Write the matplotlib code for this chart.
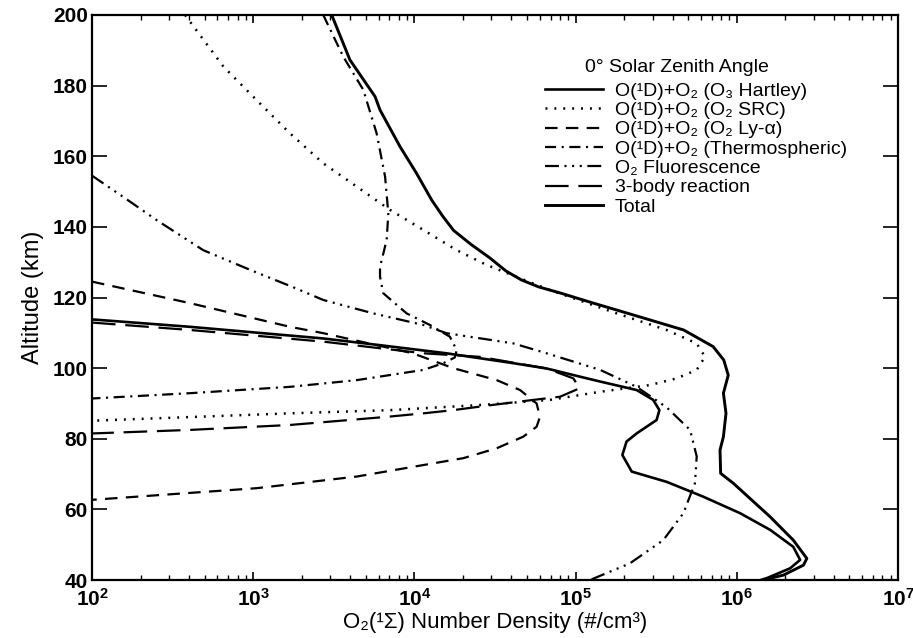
import matplotlib
matplotlib.use("Agg")
import matplotlib.pyplot as plt
from matplotlib.ticker import LogLocator, NullFormatter

plt.rcParams['font.family'] = ['Liberation Sans', 'DejaVu Sans']
plt.rcParams['mathtext.fontset'] = 'custom'
plt.rcParams['mathtext.rm'] = 'Liberation Sans:bold'
plt.rcParams['mathtext.it'] = 'Liberation Sans:italic'
plt.rcParams['mathtext.bf'] = 'Liberation Sans:bold'
plt.rcParams['lines.scale_dashes'] = False

# O2(1Sigma) number density (#/cm^3) vs altitude (km), 0 deg solar zenith angle
hartley_alt = [113.8, 111.7, 108.4, 106.5, 104.2, 102.8, 101.4, 99.9, 97.6, 96.2,
               93.8, 91.0, 88.1, 85.3, 81.5, 79.2, 75.4, 70.7, 67.8, 63.6,
               58.9, 54.2, 49.4, 45.7, 43.3, 40.5, 40.0]
hartley_den = [1.0e2, 4.05e2, 2.72e3, 6.12e3, 1.58e4, 2.55e4, 4.11e4, 6.61e4, 1.06e5, 1.42e5,
               2.39e5, 3.03e5, 3.31e5, 3.18e5, 2.39e5, 2.07e5, 1.95e5, 2.23e5, 3.67e5, 6.19e5,
               1.05e6, 1.61e6, 2.24e6, 2.47e6, 2.14e6, 1.53e6, 1.41e6]

src_alt = [200.0, 185.4, 175.9, 166.5, 158.0, 151.4, 144.8, 139.1, 133.4, 129.2,
           122.1, 115.5, 110.8, 107.0, 103.2, 99.5, 97.1, 95.2, 93.3, 91.0,
           89.6, 88.1, 87.2, 85.1]
src_den = [3.78e2, 6.53e2, 1.05e3, 1.69e3, 2.72e3, 4.39e3, 7.06e3, 1.14e4, 1.83e4, 2.81e4,
           6.93e4, 1.80e5, 3.67e5, 5.64e5, 6.35e5, 5.64e5, 4.24e5, 2.89e5, 1.42e5, 6.93e4,
           2.67e4, 7.06e3, 1.69e3, 1.0e2]

lya_alt = [124.5, 118.4, 111.7, 109.9, 104.2, 100.0, 96.6, 93.8, 90.0, 86.2,
           83.4, 80.6, 77.3, 74.5, 69.3, 66.0, 62.7]
lya_den = [1.0e2, 4.05e2, 1.69e3, 2.72e3, 9.77e3, 1.74e4, 3.24e4, 4.52e4, 5.73e4, 6.01e4,
           5.73e4, 4.74e4, 3.24e4, 2.01e4, 4.39e3, 1.05e3, 1.0e2]

thermo_alt = [200.0, 188.2, 178.8, 166.5, 154.2, 143.8, 136.3, 128.7, 125.9, 121.2,
              115.5, 112.2, 108.9, 105.1, 103.0, 101.4, 99.5, 96.6, 94.7, 92.9, 91.4]
thermo_den = [2.72e3, 3.62e3, 4.82e3, 5.83e3, 6.58e3, 6.89e3, 6.73e3, 6.12e3, 6.12e3, 6.41e3,
              8.95e3, 1.25e4, 1.66e4, 1.83e4, 1.78e4, 1.51e4, 1.14e4, 4.39e3, 1.69e3, 4.05e2, 1.0e2]

fluor_alt = [154.5, 148.5, 141.9, 133.4, 127.8, 123.0, 119.3, 115.5, 112.2, 109.9,
             107.0, 104.2, 99.5, 94.7, 88.9, 82.5, 75.0, 67.4, 58.9, 51.3, 44.7, 40.0]
fluor_den = [1.0e2, 1.56e2, 2.52e2, 4.9e2, 9.6e2, 1.75e3, 2.72e3, 5.56e3, 1.14e4, 1.58e4,
             4.11e4, 6.61e4, 1.42e5, 2.39e5, 3.67e5, 5.13e5, 5.64e5, 5.50e5, 4.66e5, 3.50e5,
             2.17e5, 1.23e5]

body3_alt = [112.9, 110.8, 107.5, 104.2, 103.2, 99.9, 97.1, 94.3, 91.9, 91.0,
             89.6, 88.1, 87.2, 86.2, 83.9, 82.5, 81.5]
body3_den = [1.0e2, 4.05e2, 2.72e3, 1.14e4, 2.55e4, 6.61e4, 9.68e4, 1.06e5, 8.0e4, 5.46e4,
             3.08e4, 1.74e4, 1.14e4, 6.73e3, 1.69e3, 4.05e2, 1.0e2]

total_alt = [200.0, 187.3, 176.9, 173.1, 162.7, 155.2, 147.6, 143.0, 139.0, 135.0,
             131.2, 127.5, 125.0, 123.0, 121.3, 118.4, 115.6, 110.8, 106.1, 102.3,
             98.0, 92.9, 87.2, 80.6, 76.8, 70.2, 67.4, 57.9, 51.3, 46.1,
             44.2, 41.4, 40.0]
total_den = [3.07e3, 3.98e3, 5.70e3, 6.12e3, 8.15e3, 1.03e4, 1.28e4, 1.5e4, 1.75e4, 2.25e4,
             2.94e4, 3.7e4, 4.6e4, 5.9e4, 8.0e4, 1.29e5, 2.08e5, 4.68e5, 7.13e5, 8.3e5,
             8.85e5, 8.26e5, 8.57e5, 8.26e5, 7.87e5, 7.94e5, 9.51e5, 1.61e6, 2.24e6, 2.72e6,
             2.59e6, 1.95e6, 1.46e6]

labels = ["O(¹D)+O₂ (O₃ Hartley)",
          "O(¹D)+O₂ (O₂ SRC)",
          "O(¹D)+O₂ (O₂ Ly-α)",
          "O(¹D)+O₂ (Thermospheric)",
          "O₂ Fluorescence",
          "3-body reaction",
          "Total"]
legend_title = "0° Solar Zenith Angle"

fig = plt.figure(figsize=(9.13, 6.38), dpi=100)
ax = fig.add_axes([92 / 913, 1 - 580 / 638, 806 / 913, 565 / 638])

ax.plot(hartley_den, hartley_alt, color='k', lw=1.9, ls='-', label=labels[0])
ax.plot(src_den, src_alt, color='k', lw=1.8, dashes=(1.4, 5.0), label=labels[1])
ax.plot(lya_den, lya_alt, color='k', lw=1.6, dashes=(9, 6), label=labels[2])
ax.plot(thermo_den, thermo_alt, color='k', lw=1.6, dashes=(8, 4, 1.5, 4), label=labels[3])
ax.plot(fluor_den, fluor_alt, color='k', lw=1.6,
        dashes=(10, 4, 1.5, 4, 1.5, 4, 1.5, 4), label=labels[4])
ax.plot(body3_den, body3_alt, color='k', lw=1.6, dashes=(17, 7), label=labels[5])
ax.plot(total_den, total_alt, color='k', lw=2.1, ls='-', label=labels[6])

ax.set_xscale('log')
ax.set_xlim(1e2, 1e7)
ax.set_ylim(40, 200)
ax.set_yticks(range(40, 201, 20))
ax.xaxis.set_major_locator(LogLocator(base=10, numticks=10))
ax.xaxis.set_minor_locator(LogLocator(base=10, subs=range(2, 10), numticks=10))
ax.xaxis.set_minor_formatter(NullFormatter())

for s in ax.spines.values():
    s.set_linewidth(1.6)
ax.tick_params(axis='x', which='major', direction='in', length=6, width=1.2,
               top=True, labelsize=15, pad=6)
ax.tick_params(axis='x', which='minor', direction='in', length=3.5, width=1.0, top=True)
ax.tick_params(axis='y', which='major', direction='in', length=11, width=1.2,
               right=True, labelsize=15, pad=3)
for t in ax.get_yticklabels() + ax.get_xticklabels():
    t.set_fontweight('bold')

ax.set_xlabel("O₂(¹Σ) Number Density (#/cm³)", fontsize=16, labelpad=1)
ax.set_ylabel("Altitude (km)", fontsize=17, labelpad=6)

# legend rows, with its heading set separately above them
leg = ax.legend(loc='upper left', bbox_to_anchor=(545 / 913, 1 - 82 / 638),
                bbox_transform=fig.transFigure, frameon=False, fontsize=14,
                handlelength=3.0, handletextpad=0.6, labelspacing=0.09,
                borderpad=0, borderaxespad=0)
fig.text(677 / 913, 1 - 67 / 638, legend_title, fontsize=14,
         ha='center', va='center')

fig.savefig("out.png", dpi=100)
